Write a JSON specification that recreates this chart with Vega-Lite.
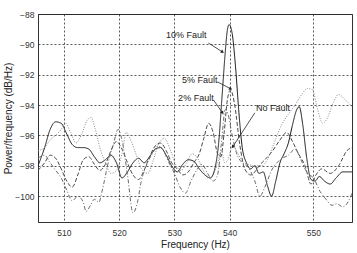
{
  "$schema": "https://vega.github.io/schema/vega-lite/v6.json",
  "width": 314,
  "height": 208,
  "autosize": {"type": "none"},
  "padding": {"left": 38, "top": 14, "right": 5, "bottom": 31},
  "background": "white",
  "config": {
    "view": {"stroke": "#333", "strokeWidth": 1},
    "font": "Liberation Sans",
    "axis": {
      "labelFont": "Liberation Sans",
      "labelFontSize": 8.5,
      "labelColor": "#333",
      "titleFont": "Liberation Sans",
      "titleFontSize": 10,
      "titleFontWeight": "normal",
      "titleColor": "#222",
      "grid": true,
      "gridColor": "#222",
      "gridDash": [2, 2],
      "gridOpacity": 0.75,
      "ticks": false,
      "domainColor": "#333"
    }
  },
  "datasets": {
    "spectra": [
      {"series": "10% Fault", "f": 505.3, "v": -98.0},
      {"series": "10% Fault", "f": 506.5, "v": -96.8},
      {"series": "10% Fault", "f": 507.5, "v": -95.6},
      {"series": "10% Fault", "f": 508.5, "v": -95.1},
      {"series": "10% Fault", "f": 509.5, "v": -95.2},
      {"series": "10% Fault", "f": 510.5, "v": -95.9},
      {"series": "10% Fault", "f": 511.5, "v": -96.6},
      {"series": "10% Fault", "f": 512.5, "v": -96.8},
      {"series": "10% Fault", "f": 513.5, "v": -96.8},
      {"series": "10% Fault", "f": 514.5, "v": -96.9},
      {"series": "10% Fault", "f": 515.5, "v": -97.4},
      {"series": "10% Fault", "f": 516.5, "v": -97.8},
      {"series": "10% Fault", "f": 517.5, "v": -97.6},
      {"series": "10% Fault", "f": 518.5, "v": -97.3},
      {"series": "10% Fault", "f": 519.5, "v": -97.8},
      {"series": "10% Fault", "f": 520.5, "v": -98.8},
      {"series": "10% Fault", "f": 521.5, "v": -98.4},
      {"series": "10% Fault", "f": 522.5, "v": -97.8},
      {"series": "10% Fault", "f": 523.5, "v": -97.5},
      {"series": "10% Fault", "f": 524.5, "v": -97.8},
      {"series": "10% Fault", "f": 525.5, "v": -97.4},
      {"series": "10% Fault", "f": 526.5, "v": -96.9},
      {"series": "10% Fault", "f": 527.5, "v": -96.8},
      {"series": "10% Fault", "f": 528.5, "v": -97.3},
      {"series": "10% Fault", "f": 529.5, "v": -98.0},
      {"series": "10% Fault", "f": 530.5, "v": -98.4},
      {"series": "10% Fault", "f": 531.5, "v": -97.9},
      {"series": "10% Fault", "f": 532.5, "v": -97.6},
      {"series": "10% Fault", "f": 533.5, "v": -97.7},
      {"series": "10% Fault", "f": 534.5, "v": -98.2},
      {"series": "10% Fault", "f": 535.5, "v": -98.6},
      {"series": "10% Fault", "f": 536.5, "v": -98.8},
      {"series": "10% Fault", "f": 537.3, "v": -98.2},
      {"series": "10% Fault", "f": 538.0, "v": -96.5},
      {"series": "10% Fault", "f": 538.6, "v": -93.5},
      {"series": "10% Fault", "f": 539.2, "v": -90.5},
      {"series": "10% Fault", "f": 539.6, "v": -89.0},
      {"series": "10% Fault", "f": 539.9, "v": -88.7},
      {"series": "10% Fault", "f": 540.3, "v": -89.3},
      {"series": "10% Fault", "f": 540.7, "v": -91.5},
      {"series": "10% Fault", "f": 541.1, "v": -94.5},
      {"series": "10% Fault", "f": 541.5, "v": -96.8},
      {"series": "10% Fault", "f": 542.0, "v": -97.8},
      {"series": "10% Fault", "f": 542.5, "v": -98.2},
      {"series": "10% Fault", "f": 543.0, "v": -98.0},
      {"series": "10% Fault", "f": 543.5, "v": -98.5},
      {"series": "10% Fault", "f": 544.0, "v": -98.4},
      {"series": "10% Fault", "f": 544.5, "v": -99.3},
      {"series": "10% Fault", "f": 545.0, "v": -100.0},
      {"series": "10% Fault", "f": 545.5, "v": -99.0},
      {"series": "10% Fault", "f": 546.0, "v": -97.8},
      {"series": "10% Fault", "f": 546.5, "v": -97.2},
      {"series": "10% Fault", "f": 547.0, "v": -96.5},
      {"series": "10% Fault", "f": 547.5, "v": -95.3},
      {"series": "10% Fault", "f": 548.0, "v": -94.3},
      {"series": "10% Fault", "f": 548.3, "v": -94.1},
      {"series": "10% Fault", "f": 548.7, "v": -95.2},
      {"series": "10% Fault", "f": 549.2, "v": -97.5},
      {"series": "10% Fault", "f": 549.7, "v": -98.9},
      {"series": "10% Fault", "f": 550.2, "v": -99.0},
      {"series": "10% Fault", "f": 550.7, "v": -98.7},
      {"series": "10% Fault", "f": 551.3, "v": -99.0},
      {"series": "10% Fault", "f": 552.0, "v": -99.2},
      {"series": "10% Fault", "f": 552.7, "v": -98.8},
      {"series": "10% Fault", "f": 553.5, "v": -98.4},
      {"series": "10% Fault", "f": 554.6, "v": -98.4},

      {"series": "5% Fault", "f": 505.3, "v": -98.3},
      {"series": "5% Fault", "f": 506.5, "v": -97.8},
      {"series": "5% Fault", "f": 507.5, "v": -97.3},
      {"series": "5% Fault", "f": 508.5, "v": -97.5},
      {"series": "5% Fault", "f": 509.5, "v": -98.2},
      {"series": "5% Fault", "f": 510.5, "v": -99.0},
      {"series": "5% Fault", "f": 511.5, "v": -99.4},
      {"series": "5% Fault", "f": 512.5, "v": -98.6},
      {"series": "5% Fault", "f": 513.5, "v": -97.6},
      {"series": "5% Fault", "f": 514.5, "v": -97.4},
      {"series": "5% Fault", "f": 515.5, "v": -97.9},
      {"series": "5% Fault", "f": 516.5, "v": -98.3},
      {"series": "5% Fault", "f": 517.5, "v": -97.9},
      {"series": "5% Fault", "f": 518.5, "v": -97.0},
      {"series": "5% Fault", "f": 519.5, "v": -96.4},
      {"series": "5% Fault", "f": 520.5, "v": -96.9},
      {"series": "5% Fault", "f": 521.5, "v": -97.8},
      {"series": "5% Fault", "f": 522.5, "v": -98.6},
      {"series": "5% Fault", "f": 523.5, "v": -98.9},
      {"series": "5% Fault", "f": 524.5, "v": -98.3},
      {"series": "5% Fault", "f": 525.5, "v": -97.4},
      {"series": "5% Fault", "f": 526.5, "v": -96.7},
      {"series": "5% Fault", "f": 527.5, "v": -96.5},
      {"series": "5% Fault", "f": 528.5, "v": -97.0},
      {"series": "5% Fault", "f": 529.5, "v": -97.8},
      {"series": "5% Fault", "f": 530.5, "v": -98.2},
      {"series": "5% Fault", "f": 531.5, "v": -98.6},
      {"series": "5% Fault", "f": 532.5, "v": -98.4},
      {"series": "5% Fault", "f": 533.5, "v": -97.8},
      {"series": "5% Fault", "f": 534.5, "v": -97.2},
      {"series": "5% Fault", "f": 535.3, "v": -96.2},
      {"series": "5% Fault", "f": 536.2, "v": -95.2},
      {"series": "5% Fault", "f": 537.0, "v": -95.8},
      {"series": "5% Fault", "f": 537.8, "v": -97.2},
      {"series": "5% Fault", "f": 538.4, "v": -97.4},
      {"series": "5% Fault", "f": 539.0, "v": -95.8},
      {"series": "5% Fault", "f": 539.6, "v": -93.6},
      {"series": "5% Fault", "f": 540.1, "v": -93.0},
      {"series": "5% Fault", "f": 540.6, "v": -94.0},
      {"series": "5% Fault", "f": 541.2, "v": -96.6},
      {"series": "5% Fault", "f": 541.8, "v": -98.2},
      {"series": "5% Fault", "f": 542.5, "v": -98.6},
      {"series": "5% Fault", "f": 543.0, "v": -98.4},
      {"series": "5% Fault", "f": 543.5, "v": -98.0},
      {"series": "5% Fault", "f": 544.2, "v": -97.6},
      {"series": "5% Fault", "f": 545.0, "v": -97.1},
      {"series": "5% Fault", "f": 546.0, "v": -96.3},
      {"series": "5% Fault", "f": 546.8, "v": -95.8},
      {"series": "5% Fault", "f": 547.5, "v": -96.4},
      {"series": "5% Fault", "f": 548.2, "v": -97.2},
      {"series": "5% Fault", "f": 549.0, "v": -98.0},
      {"series": "5% Fault", "f": 549.7, "v": -99.2},
      {"series": "5% Fault", "f": 550.3, "v": -98.6},
      {"series": "5% Fault", "f": 551.0, "v": -98.2},
      {"series": "5% Fault", "f": 552.0, "v": -98.5},
      {"series": "5% Fault", "f": 553.0, "v": -98.0},
      {"series": "5% Fault", "f": 554.0, "v": -97.0},
      {"series": "5% Fault", "f": 554.6, "v": -96.8},

      {"series": "2% Fault", "f": 505.3, "v": -97.5},
      {"series": "2% Fault", "f": 506.5, "v": -97.3},
      {"series": "2% Fault", "f": 507.5, "v": -97.8},
      {"series": "2% Fault", "f": 508.5, "v": -98.3},
      {"series": "2% Fault", "f": 509.5, "v": -98.8},
      {"series": "2% Fault", "f": 510.5, "v": -99.6},
      {"series": "2% Fault", "f": 511.5, "v": -100.3},
      {"series": "2% Fault", "f": 512.5, "v": -100.0},
      {"series": "2% Fault", "f": 513.5, "v": -100.4},
      {"series": "2% Fault", "f": 514.0, "v": -101.0},
      {"series": "2% Fault", "f": 514.8, "v": -100.6},
      {"series": "2% Fault", "f": 515.5, "v": -100.2},
      {"series": "2% Fault", "f": 516.3, "v": -100.4},
      {"series": "2% Fault", "f": 517.0, "v": -99.5},
      {"series": "2% Fault", "f": 518.0, "v": -97.8},
      {"series": "2% Fault", "f": 519.0, "v": -96.5},
      {"series": "2% Fault", "f": 519.8, "v": -95.6},
      {"series": "2% Fault", "f": 520.5, "v": -96.3},
      {"series": "2% Fault", "f": 521.5, "v": -98.6},
      {"series": "2% Fault", "f": 522.5, "v": -101.1},
      {"series": "2% Fault", "f": 523.3, "v": -100.4},
      {"series": "2% Fault", "f": 524.0, "v": -99.0},
      {"series": "2% Fault", "f": 525.0, "v": -97.9},
      {"series": "2% Fault", "f": 526.0, "v": -97.2},
      {"series": "2% Fault", "f": 527.0, "v": -96.7},
      {"series": "2% Fault", "f": 528.0, "v": -97.0},
      {"series": "2% Fault", "f": 529.0, "v": -97.8},
      {"series": "2% Fault", "f": 530.0, "v": -98.5},
      {"series": "2% Fault", "f": 531.0, "v": -99.4},
      {"series": "2% Fault", "f": 532.0, "v": -99.8},
      {"series": "2% Fault", "f": 533.0, "v": -99.0},
      {"series": "2% Fault", "f": 534.0, "v": -98.3},
      {"series": "2% Fault", "f": 535.0, "v": -97.9},
      {"series": "2% Fault", "f": 536.0, "v": -98.5},
      {"series": "2% Fault", "f": 537.0, "v": -99.0},
      {"series": "2% Fault", "f": 537.8, "v": -98.6},
      {"series": "2% Fault", "f": 538.5, "v": -96.5},
      {"series": "2% Fault", "f": 539.2, "v": -94.3},
      {"series": "2% Fault", "f": 539.7, "v": -94.6},
      {"series": "2% Fault", "f": 540.3, "v": -96.0},
      {"series": "2% Fault", "f": 540.9, "v": -97.3},
      {"series": "2% Fault", "f": 541.5, "v": -97.8},
      {"series": "2% Fault", "f": 542.2, "v": -98.1},
      {"series": "2% Fault", "f": 543.0, "v": -99.0},
      {"series": "2% Fault", "f": 543.6, "v": -100.0},
      {"series": "2% Fault", "f": 544.2, "v": -99.4},
      {"series": "2% Fault", "f": 545.0, "v": -98.3},
      {"series": "2% Fault", "f": 546.0, "v": -97.6},
      {"series": "2% Fault", "f": 547.0, "v": -97.3},
      {"series": "2% Fault", "f": 547.8, "v": -96.9},
      {"series": "2% Fault", "f": 548.5, "v": -97.6},
      {"series": "2% Fault", "f": 549.3, "v": -98.5},
      {"series": "2% Fault", "f": 550.0, "v": -98.8},
      {"series": "2% Fault", "f": 550.8, "v": -99.7},
      {"series": "2% Fault", "f": 551.5, "v": -100.2},
      {"series": "2% Fault", "f": 552.2, "v": -100.6},
      {"series": "2% Fault", "f": 552.8, "v": -100.5},
      {"series": "2% Fault", "f": 553.5, "v": -100.7},
      {"series": "2% Fault", "f": 554.2, "v": -100.3},
      {"series": "2% Fault", "f": 554.6, "v": -99.8},

      {"series": "No Fault", "f": 505.3, "v": -97.0},
      {"series": "No Fault", "f": 506.5, "v": -96.8},
      {"series": "No Fault", "f": 507.5, "v": -96.3},
      {"series": "No Fault", "f": 508.5, "v": -96.0},
      {"series": "No Fault", "f": 509.5, "v": -95.6},
      {"series": "No Fault", "f": 510.3, "v": -95.2},
      {"series": "No Fault", "f": 511.2, "v": -95.8},
      {"series": "No Fault", "f": 512.2, "v": -96.5},
      {"series": "No Fault", "f": 513.2, "v": -95.9},
      {"series": "No Fault", "f": 514.2, "v": -95.0},
      {"series": "No Fault", "f": 514.9, "v": -94.8},
      {"series": "No Fault", "f": 515.6, "v": -95.5},
      {"series": "No Fault", "f": 516.5, "v": -96.8},
      {"series": "No Fault", "f": 517.5, "v": -97.8},
      {"series": "No Fault", "f": 518.5, "v": -98.5},
      {"series": "No Fault", "f": 519.5, "v": -98.3},
      {"series": "No Fault", "f": 520.5, "v": -97.2},
      {"series": "No Fault", "f": 521.3, "v": -95.8},
      {"series": "No Fault", "f": 522.2, "v": -96.4},
      {"series": "No Fault", "f": 523.2, "v": -97.4},
      {"series": "No Fault", "f": 524.2, "v": -98.3},
      {"series": "No Fault", "f": 525.2, "v": -98.5},
      {"series": "No Fault", "f": 526.2, "v": -97.6},
      {"series": "No Fault", "f": 527.2, "v": -96.5},
      {"series": "No Fault", "f": 528.2, "v": -96.2},
      {"series": "No Fault", "f": 529.2, "v": -96.9},
      {"series": "No Fault", "f": 530.2, "v": -97.9},
      {"series": "No Fault", "f": 531.2, "v": -98.3},
      {"series": "No Fault", "f": 532.2, "v": -97.8},
      {"series": "No Fault", "f": 533.2, "v": -97.2},
      {"series": "No Fault", "f": 534.2, "v": -97.5},
      {"series": "No Fault", "f": 535.2, "v": -98.3},
      {"series": "No Fault", "f": 536.2, "v": -98.8},
      {"series": "No Fault", "f": 537.0, "v": -98.6},
      {"series": "No Fault", "f": 537.8, "v": -97.8},
      {"series": "No Fault", "f": 538.5, "v": -97.0},
      {"series": "No Fault", "f": 539.1, "v": -97.8},
      {"series": "No Fault", "f": 539.7, "v": -97.6},
      {"series": "No Fault", "f": 540.3, "v": -96.7},
      {"series": "No Fault", "f": 541.0, "v": -97.2},
      {"series": "No Fault", "f": 541.6, "v": -97.8},
      {"series": "No Fault", "f": 542.2, "v": -97.9},
      {"series": "No Fault", "f": 543.0, "v": -98.0},
      {"series": "No Fault", "f": 543.8, "v": -98.0},
      {"series": "No Fault", "f": 544.5, "v": -97.6},
      {"series": "No Fault", "f": 545.3, "v": -96.5},
      {"series": "No Fault", "f": 546.2, "v": -95.3},
      {"series": "No Fault", "f": 547.0, "v": -94.6},
      {"series": "No Fault", "f": 547.8, "v": -94.0},
      {"series": "No Fault", "f": 548.6, "v": -93.3},
      {"series": "No Fault", "f": 549.3, "v": -92.9},
      {"series": "No Fault", "f": 549.9, "v": -93.0},
      {"series": "No Fault", "f": 550.5, "v": -94.3},
      {"series": "No Fault", "f": 551.1, "v": -95.2},
      {"series": "No Fault", "f": 551.7, "v": -94.8},
      {"series": "No Fault", "f": 552.4, "v": -93.8},
      {"series": "No Fault", "f": 553.0, "v": -93.3},
      {"series": "No Fault", "f": 553.7, "v": -93.6},
      {"series": "No Fault", "f": 554.6, "v": -94.1}
    ],
    "labels": [
      {"label": "10% Fault", "f": 532.15, "v": -89.38},
      {"label": "5% Fault", "f": 534.6, "v": -92.34},
      {"label": "2% Fault", "f": 533.88, "v": -93.53},
      {"label": "No Fault", "f": 545.16, "v": -94.18}
    ],
    "arrows": [
      {"label": "10% Fault", "f": 536.15, "v": -89.91, "f2": 538.7, "v2": -90.5},
      {"label": "5% Fault", "f": 537.79, "v": -92.47, "f2": 540.12, "v2": -92.93},
      {"label": "2% Fault", "f": 537.06, "v": -93.66, "f2": 538.7, "v2": -94.51},
      {"label": "No Fault", "f": 543.0, "v": -94.51, "f2": 540.36, "v2": -96.75}
    ]
  },
  "encoding": {
    "x": {
      "field": "f",
      "type": "quantitative",
      "title": "Frequency (Hz)",
      "scale": {"domain": [505.3, 540, 554.6], "range": [0, 191.7, 314], "nice": false, "zero": false},
      "axis": {"values": [510, 520, 530, 540, 550], "labelPadding": 6, "titlePadding": 3}
    },
    "y": {
      "field": "v",
      "type": "quantitative",
      "title": "Power/frequency (dB/Hz)",
      "scale": {"domain": [-101.7, -88], "nice": false, "zero": false},
      "axis": {"values": [-100, -98, -96, -94, -92, -90, -88], "labelPadding": 4, "titlePadding": 1}
    }
  },
  "layer": [
    {
      "data": {"name": "spectra"},
      "mark": {"type": "line", "strokeWidth": 1, "clip": true, "interpolate": "monotone"},
      "encoding": {
        "detail": {"field": "series"},
        "color": {
          "field": "series",
          "type": "nominal",
          "scale": {"domain": ["10% Fault", "5% Fault", "2% Fault", "No Fault"], "range": ["#1a1a1a", "#4a4a4a", "#6a6a6a", "#8a8a8a"]},
          "legend": null
        },
        "strokeDash": {
          "field": "series",
          "type": "nominal",
          "scale": {"domain": ["10% Fault", "5% Fault", "2% Fault", "No Fault"], "range": [[1, 0], [4, 2], [4, 2, 1, 2], [1, 1.5]]},
          "legend": null
        },
        "order": {"field": "f", "type": "quantitative"}
      }
    },
    {
      "data": {"name": "arrows"},
      "mark": {"type": "rule", "color": "#222", "strokeWidth": 0.8},
      "encoding": {
        "x2": {"field": "f2"},
        "y2": {"field": "v2"}
      }
    },
    {
      "data": {"name": "arrows"},
      "transform": [{"filter": "datum.label === '10% Fault'"}],
      "mark": {"type": "point", "shape": "triangle-up", "filled": true, "color": "#222", "size": 14, "angle": 123, "opacity": 1},
      "encoding": {"x": {"field": "f2", "type": "quantitative"}, "y": {"field": "v2", "type": "quantitative"}}
    },
    {
      "data": {"name": "arrows"},
      "transform": [{"filter": "datum.label === '5% Fault'"}],
      "mark": {"type": "point", "shape": "triangle-up", "filled": true, "color": "#222", "size": 14, "angle": 117, "opacity": 1},
      "encoding": {"x": {"field": "f2", "type": "quantitative"}, "y": {"field": "v2", "type": "quantitative"}}
    },
    {
      "data": {"name": "arrows"},
      "transform": [{"filter": "datum.label === '2% Fault'"}],
      "mark": {"type": "point", "shape": "triangle-up", "filled": true, "color": "#222", "size": 14, "angle": 145, "opacity": 1},
      "encoding": {"x": {"field": "f2", "type": "quantitative"}, "y": {"field": "v2", "type": "quantitative"}}
    },
    {
      "data": {"name": "arrows"},
      "transform": [{"filter": "datum.label === 'No Fault'"}],
      "mark": {"type": "point", "shape": "triangle-up", "filled": true, "color": "#222", "size": 14, "angle": 213, "opacity": 1},
      "encoding": {"x": {"field": "f2", "type": "quantitative"}, "y": {"field": "v2", "type": "quantitative"}}
    },
    {
      "data": {"name": "labels"},
      "mark": {"type": "text", "font": "Liberation Sans", "fontSize": 9, "color": "#222", "align": "center", "baseline": "middle"},
      "encoding": {"text": {"field": "label"}}
    }
  ]
}
